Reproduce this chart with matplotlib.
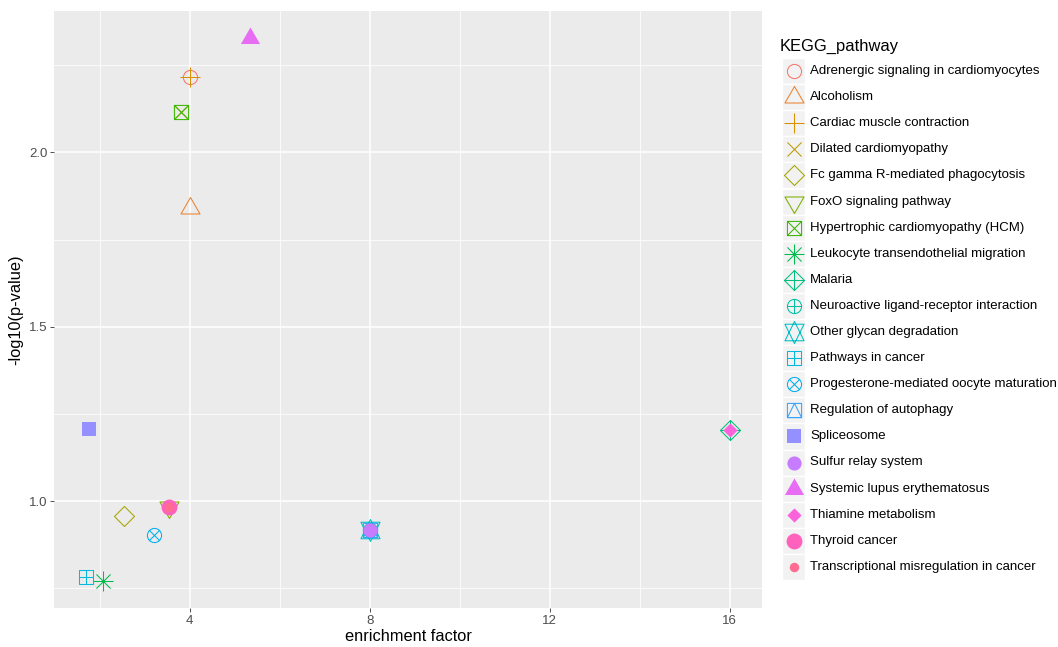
import matplotlib
matplotlib.use("Agg")
import matplotlib.pyplot as plt
from matplotlib.path import Path
from matplotlib.patches import Rectangle
import numpy as np

plt.rcParams["font.family"] = ["Liberation Sans", "DejaVu Sans"]

# ── Data ──────────────────────────────────────────────────────────────
pathways = [
    "Adrenergic signaling in cardiomyocytes", "Alcoholism",
    "Cardiac muscle contraction", "Dilated cardiomyopathy",
    "Fc gamma R-mediated phagocytosis", "FoxO signaling pathway",
    "Hypertrophic cardiomyopathy (HCM)", "Leukocyte transendothelial migration",
    "Malaria", "Neuroactive ligand-receptor interaction",
    "Other glycan degradation", "Pathways in cancer",
    "Progesterone-mediated oocyte maturation", "Regulation of autophagy",
    "Spliceosome", "Sulfur relay system", "Systemic lupus erythematosus",
    "Thiamine metabolism", "Thyroid cancer", "Transcriptional misregulation in cancer",
]
enrichment = [4.0, 4.0, 4.0, 3.81, 2.53, 3.55, 3.81, 2.07, 16.0, 8.0,
              8.0, 1.70, 3.21, 8.0, 1.76, 8.0, 5.33, 16.0, 3.55, 3.55]
neglog_p = [2.216, 1.841, 2.216, 2.116, 0.957, 0.982, 2.116, 0.771, 1.203, 0.917,
            0.917, 0.783, 0.903, 0.917, 1.206, 0.917, 2.328, 1.203, 0.982, 0.982]

colors = ["#F8766D", "#EA8331", "#D89000", "#C09B00", "#A3A500", "#7CAE00",
          "#39B600", "#00BB4E", "#00BF7D", "#00C1A3", "#00BFC4", "#00BAE0",
          "#00B0F6", "#35A2FF", "#9590FF", "#C77CFF", "#E76BF3", "#FA62DB",
          "#FF62BC", "#FF6C91"]


# ── R-style point shapes (pch 1..20) ─────────────────────────────────
def seg(a, b):
    return Path([a, b], [Path.MOVETO, Path.LINETO])

def poly(pts):
    pts = list(pts) + [pts[0]]
    return Path(pts, [Path.MOVETO] + [Path.LINETO] * (len(pts) - 2) + [Path.CLOSEPOLY])

def comp(*ps):
    return Path.make_compound_path(*ps)

T0, T1, T2 = 1.55512, 1.34677, 0.77756
S2 = np.sqrt(2)
circ = Path.circle((0, 0), 1.0)
sq = poly([(-1, -1), (1, -1), (1, 1), (-1, 1)])
tri_up = poly([(0, T0), (T1, -T2), (-T1, -T2)])
tri_dn = poly([(0, -T0), (T1, T2), (-T1, T2)])
plus1 = comp(seg((-1, 0), (1, 0)), seg((0, -1), (0, 1)))
xx1 = comp(seg((-1, -1), (1, 1)), seg((-1, 1), (1, -1)))
yc11 = 0.5 * (T2 + T0)

shapes = [
    (circ, False, 1.0),
    (tri_up, False, 1.0),
    (comp(seg((-S2, 0), (S2, 0)), seg((0, -S2), (0, S2))), False, 1.0),
    (xx1, False, 1.0),
    (poly([(0, S2), (S2, 0), (0, -S2), (-S2, 0)]), False, 1.0),
    (tri_dn, False, 1.0),
    (comp(sq, xx1), False, 1.0),
    (comp(xx1, seg((-S2, 0), (S2, 0)), seg((0, -S2), (0, S2))), False, 1.0),
    (comp(poly([(0, S2), (S2, 0), (0, -S2), (-S2, 0)]),
          seg((-S2, 0), (S2, 0)), seg((0, -S2), (0, S2))), False, 1.0),
    (comp(circ, plus1), False, 1.0),
    (comp(poly([(0, -T0), (T1, yc11), (-T1, yc11)]),
          poly([(0, T0), (T1, -yc11), (-T1, -yc11)])), False, 1.0),
    (comp(sq, plus1), False, 1.0),
    (comp(circ, seg((-0.72, -0.72), (0.72, 0.72)), seg((-0.72, 0.72), (0.72, -0.72))), False, 1.0),
    (comp(sq, poly([(0, 1), (1, -1), (-1, -1)])), False, 1.0),
    (sq, True, 1.0),
    (circ, True, 1.0),
    (tri_up, True, 1.0),
    (poly([(0, 1), (1, 0), (0, -1), (-1, 0)]), True, 1.0),
    (circ, True, 1.12),
    (circ, True, 0.67),
]

R_PT = 5.1  # point radius in pt


def draw_point(ax, x, y, i, **kw):
    path, filled, scale = shapes[i]
    m = np.abs(path.vertices).max()
    ms = 2 * m * R_PT * scale
    ax.plot([x], [y], ls="none", marker=path, ms=ms,
            mfc=colors[i] if filled else "none", mec=colors[i],
            mew=0.0 if filled else 0.75, **kw)


# ── Figure ────────────────────────────────────────────────────────────
fig = plt.figure(figsize=(10.58, 6.47), dpi=100)
ax = fig.add_axes([54 / 1058, 1 - 608 / 647, (762 - 54) / 1058, (608 - 11) / 647])
ax.set_facecolor("#EBEBEB")
for s in ax.spines.values():
    s.set_visible(False)

for i in range(len(pathways)):
    draw_point(ax, enrichment[i], neglog_p[i], i, zorder=3)

xs, ys = np.array(enrichment), np.array(neglog_p)
dx, dy = 0.05 * (xs.max() - xs.min()), 0.05 * (ys.max() - ys.min())
ax.set_xlim(xs.min() - dx, xs.max() + dx)
ax.set_ylim(ys.min() - dy, ys.max() + dy)

ax.set_xticks([4, 8, 12, 16])
ax.set_yticks([1.0, 1.5, 2.0])
ax.set_yticklabels(["1.0", "1.5", "2.0"])
ax.set_xticks([2, 6, 10, 14], minor=True)
ax.set_yticks([0.75, 1.25, 1.75, 2.25], minor=True)
ax.grid(True, which="major", color="white", linewidth=1.1, zorder=0)
ax.grid(True, which="minor", color="white", linewidth=0.55, zorder=0)
ax.set_axisbelow(True)
ax.tick_params(which="major", length=2.75, width=0.6, color="#333333",
               labelcolor="#4D4D4D", labelsize=9.5, pad=2)
ax.tick_params(which="minor", length=0)
ax.set_xlabel("enrichment factor", fontsize=11.8, labelpad=2)
ax.set_ylabel("-log10(p-value)", fontsize=11.8, labelpad=4)

# ── Legend (drawn by hand, pixel coords) ──────────────────────────────
lg = fig.add_axes([0, 0, 1, 1], zorder=5)
lg.set_xlim(0, 1058)
lg.set_ylim(647, 0)
lg.axis("off")
lg.text(780, 46, "KEGG_pathway", fontsize=11.9, va="center", ha="left")
for i, name in enumerate(pathways):
    yc = 71 + i * 26.1
    lg.add_patch(Rectangle((782, yc - 13), 23, 26.1, facecolor="#F2F2F2",
                           edgecolor="white", linewidth=1.0))
    draw_point(lg, 793.5, yc, i, zorder=4)
    lg.text(810, yc, name, fontsize=9.5, va="center", ha="left")

fig.savefig("out.png", dpi=100)
